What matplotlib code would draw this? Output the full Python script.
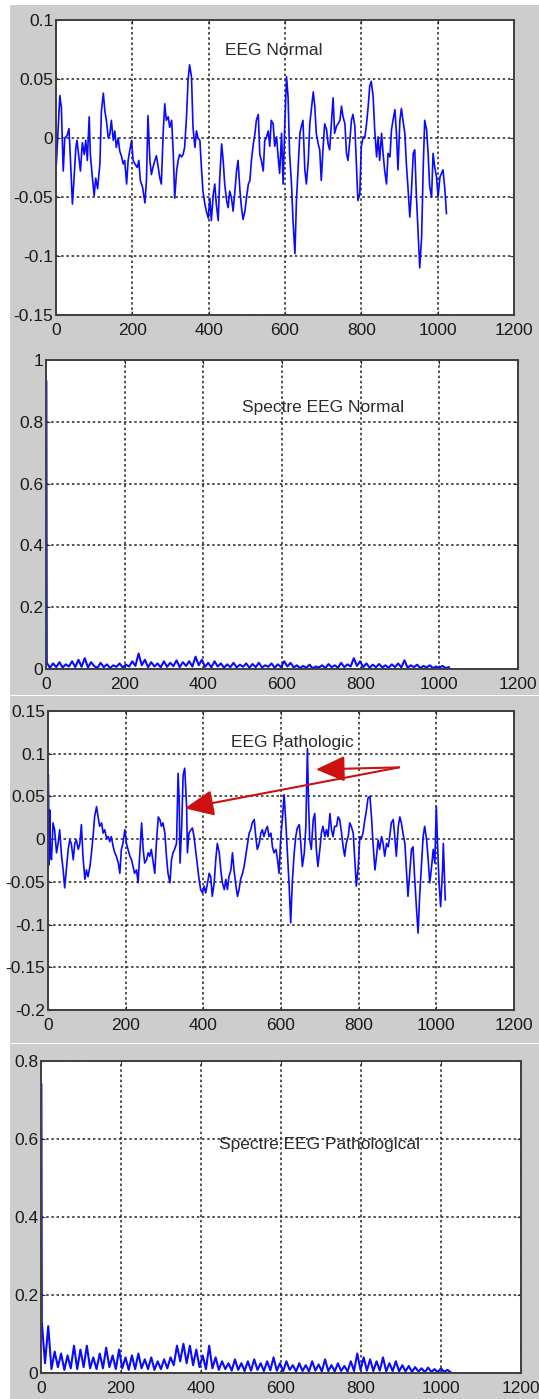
import numpy as np
import matplotlib
matplotlib.use("Agg")
import matplotlib.pyplot as plt
from matplotlib.patches import Rectangle

plt.rcParams["font.family"] = ["Liberation Sans", "DejaVu Sans"]

# EEG normal (samples / amplitude)
normal_x = [1, 10, 14, 19, 23, 29, 34, 38, 43, 47, 52, 55, 61, 64, 69, 74, 78, 82, 87, 90,
            96, 100, 104, 109, 115, 119, 124, 128, 132, 137, 141, 145, 150, 154, 158, 163, 167, 172, 176, 180,
            185, 189, 193, 198, 202, 207, 213, 217, 221, 227, 233, 237, 241, 246, 250, 254, 259, 263, 268, 272,
            276, 281, 285, 289, 294, 298, 303, 307, 311, 316, 320, 324, 329, 333, 337, 342, 346, 350, 355, 359,
            364, 368, 372, 377, 381, 385, 390, 394, 399, 403, 407, 412, 416, 420, 425, 429, 434, 438, 442, 447,
            451, 455, 460, 464, 468, 473, 477, 482, 486, 490, 495, 499, 504, 508, 512, 517, 521, 525, 530, 534,
            538, 543, 547, 551, 556, 560, 564, 569, 573, 578, 582, 586, 591, 595, 599, 604, 608, 612, 617, 621,
            626, 630, 634, 639, 643, 647, 652, 656, 661, 665, 669, 674, 678, 682, 687, 691, 695, 700, 704, 709,
            713, 717, 722, 726, 730, 735, 739, 744, 748, 752, 757, 761, 765, 770, 774, 778, 783, 787, 791, 796,
            800, 805, 809, 813, 818, 822, 826, 831, 835, 840, 844, 848, 853, 857, 861, 866, 870, 875, 879, 883,
            888, 892, 896, 901, 905, 909, 914, 918, 922, 927, 931, 936, 940, 944, 949, 953, 958, 962, 966, 971,
            975, 979, 984, 988, 992, 997, 1001, 1006, 1010, 1014, 1019, 1023]
normal_y = [-0.022, 0.036, 0.026, -0.028, 0.0, 0.002, 0.008, -0.019, -0.056, -0.036, -0.008, -0.002, -0.019, -0.028, -0.004, -0.014, -0.002, -0.019, 0.018, -0.014,
            -0.036, -0.049, -0.034, -0.043, -0.022, 0.023, 0.038, 0.023, 0.015, 0.0, 0.003, 0.015, -0.002, 0.006, -0.008, 0.0, -0.011, -0.016, -0.022, -0.019,
            -0.039, -0.019, -0.011, -0.002, -0.019, -0.022, -0.025, -0.019, -0.036, -0.042, -0.055, -0.036, 0.019, -0.019, -0.031, -0.025, -0.019, -0.015, -0.025, -0.034,
            -0.039, 0.006, 0.029, 0.015, 0.018, 0.009, 0.015, -0.011, -0.051, -0.028, -0.019, -0.014, -0.016, -0.014, -0.008, 0.018, 0.049, 0.062, 0.052, 0.009,
            -0.008, 0.006, 0.0, -0.002, -0.025, -0.045, -0.056, -0.062, -0.068, -0.051, -0.070, -0.048, -0.039, -0.056, -0.070, -0.034, -0.005, -0.019, -0.039, -0.053,
            -0.059, -0.045, -0.051, -0.062, -0.048, -0.028, -0.019, -0.045, -0.059, -0.069, -0.062, -0.051, -0.039, -0.036, -0.019, -0.005, 0.003, 0.015, 0.020, -0.014,
            -0.019, -0.028, -0.002, 0.0, 0.006, -0.007, 0.015, 0.012, -0.007, 0.001, -0.016, -0.030, 0.004, -0.039, 0.007, 0.052, 0.035, -0.013, -0.039, -0.070,
            -0.098, -0.053, -0.027, 0.004, 0.010, 0.015, -0.027, -0.039, -0.019, 0.012, 0.024, 0.039, 0.027, 0.004, -0.005, -0.010, -0.036, -0.007, 0.012, 0.007,
            -0.005, -0.010, 0.015, 0.034, 0.004, 0.010, 0.012, 0.015, 0.027, 0.018, 0.012, -0.013, -0.019, -0.002, 0.015, 0.020, 0.010, -0.022, -0.053, -0.047,
            -0.007, 0.001, 0.0, 0.010, 0.027, 0.044, 0.048, 0.035, 0.007, -0.016, 0.001, -0.019, 0.004, -0.013, -0.027, -0.039, -0.013, -0.016, 0.007, 0.015,
            0.024, 0.004, -0.027, 0.015, 0.025, 0.015, 0.004, -0.022, -0.041, -0.067, -0.047, -0.013, -0.010, -0.047, -0.081, -0.110, -0.084, -0.027, 0.015, 0.007,
            -0.013, -0.041, -0.050, -0.013, -0.024, -0.033, -0.050, -0.033, -0.030, -0.027, -0.044, -0.064]

# EEG pathologic
patho_x = [1, 3, 5, 6, 9, 13, 17, 22, 26, 30, 35, 39, 43, 48, 52, 56, 60, 65, 69, 73,
           78, 82, 86, 90, 95, 99, 103, 108, 112, 116, 120, 125, 129, 133, 138, 142, 146, 151, 155, 159,
           163, 168, 172, 176, 181, 185, 189, 193, 198, 202, 206, 211, 215, 219, 223, 228, 232, 236, 241, 245,
           249, 254, 258, 262, 266, 271, 275, 279, 284, 288, 292, 296, 301, 305, 309, 314, 318, 322, 326, 331,
           335, 338, 340, 344, 348, 352, 357, 359, 363, 368, 372, 376, 381, 385, 389, 393, 398, 402, 406, 411,
           415, 419, 423, 428, 432, 436, 441, 445, 449, 454, 458, 462, 466, 471, 475, 479, 484, 488, 492, 496,
           501, 505, 509, 514, 518, 522, 526, 531, 535, 539, 544, 548, 552, 556, 561, 565, 569, 574, 578, 582,
           587, 591, 595, 599, 604, 608, 612, 617, 621, 625, 629, 634, 638, 642, 647, 651, 655, 660, 664, 668,
           671, 674, 678, 683, 687, 691, 695, 700, 704, 708, 713, 717, 721, 726, 730, 734, 738, 743, 747, 751,
           756, 760, 764, 768, 773, 777, 781, 786, 790, 794, 799, 803, 807, 811, 816, 820, 824, 829, 833, 837,
           842, 846, 850, 854, 859, 863, 867, 872, 876, 880, 884, 889, 893, 897, 902, 906, 910, 914, 919, 923,
           927, 932, 936, 940, 944, 949, 953, 957, 962, 966, 970, 975, 979, 983, 987, 992, 996, 1000, 1003, 1007,
           1011, 1016, 1018, 1023]
patho_y = [0.075, -0.030, 0.034, -0.016, -0.024, 0.019, 0.011, -0.016, -0.005, 0.011, -0.020, -0.036, -0.057, -0.032, -0.012, -0.001, -0.005, -0.024, -0.005, -0.001,
           -0.012, -0.005, 0.017, -0.020, -0.047, -0.036, -0.044, -0.032, -0.016, 0.003, 0.026, 0.038, 0.026, 0.015, 0.019, 0.007, 0.011, 0.001, 0.003, -0.003,
           0.003, -0.009, -0.016, -0.020, -0.028, -0.040, -0.012, -0.005, 0.011, -0.005, -0.012, -0.020, -0.024, -0.032, -0.040, -0.036, -0.051, -0.020, 0.019, -0.012,
           -0.028, -0.024, -0.016, -0.020, -0.012, -0.028, -0.040, -0.005, 0.026, 0.023, 0.015, 0.019, 0.007, -0.020, -0.040, -0.051, -0.024, -0.016, -0.012, -0.005,
           0.077, 0.042, -0.028, 0.011, 0.075, 0.083, 0.038, -0.016, 0.007, 0.011, 0.013, 0.003, -0.016, -0.032, -0.047, -0.059, -0.063, -0.055, -0.063, -0.051,
           -0.040, -0.044, -0.067, -0.051, -0.024, -0.005, -0.016, -0.036, -0.051, -0.059, -0.047, -0.059, -0.044, -0.036, -0.016, -0.036, -0.055, -0.067, -0.059, -0.047,
           -0.040, -0.032, -0.020, -0.005, 0.007, 0.011, 0.019, 0.023, 0.003, -0.012, -0.005, 0.007, 0.011, 0.003, 0.011, 0.015, 0.003, 0.007, -0.009, -0.016,
           -0.012, -0.024, -0.040, -0.001, 0.026, 0.052, 0.023, -0.020, -0.055, -0.098, -0.051, -0.016, 0.003, 0.013, 0.017, -0.005, -0.032, -0.016, 0.015, 0.106,
           0.042, -0.001, -0.012, 0.023, 0.030, -0.012, -0.032, -0.012, 0.007, 0.015, 0.003, 0.011, 0.003, 0.030, 0.011, 0.003, 0.015, 0.015, 0.026, 0.023,
           0.007, -0.009, -0.020, -0.005, 0.003, 0.019, 0.015, 0.007, -0.024, -0.055, -0.032, 0.003, 0.001, 0.007, 0.023, 0.034, 0.048, 0.050, 0.026, -0.005,
           -0.036, -0.020, -0.001, -0.012, 0.003, -0.005, -0.020, -0.005, -0.009, 0.003, 0.019, 0.023, 0.003, -0.020, 0.015, 0.026, 0.019, 0.007, -0.005, -0.036,
           -0.067, -0.036, -0.012, -0.009, -0.044, -0.082, -0.110, -0.067, -0.028, 0.003, 0.015, -0.001, -0.024, -0.051, -0.036, -0.012, -0.028, 0.038, -0.005, -0.051,
           -0.079, -0.036, -0.005, -0.071]

# spectra: DC peak, then magnitude samples from 2 to 1024
spec_normal_dc = 0.93
spec_normal = [0.020, 0.004, 0.018, 0.006, 0.022, 0.005, 0.015, 0.008, 0.025, 0.006, 0.030, 0.007, 0.035, 0.005, 0.022, 0.009,
               0.004, 0.020, 0.006, 0.015, 0.003, 0.012, 0.007, 0.018, 0.005, 0.014, 0.008, 0.025, 0.010, 0.050, 0.012, 0.030,
               0.006, 0.022, 0.008, 0.018, 0.005, 0.025, 0.007, 0.020, 0.009, 0.028, 0.006, 0.022, 0.010, 0.025, 0.008, 0.040,
               0.012, 0.030, 0.007, 0.020, 0.005, 0.025, 0.008, 0.018, 0.004, 0.015, 0.006, 0.020, 0.005, 0.014, 0.007, 0.018,
               0.004, 0.016, 0.006, 0.020, 0.005, 0.012, 0.007, 0.018, 0.004, 0.015, 0.006, 0.025, 0.008, 0.020, 0.005, 0.012,
               0.003, 0.010, 0.004, 0.014, 0.002, 0.008, 0.005, 0.012, 0.003, 0.016, 0.006, 0.012, 0.004, 0.020, 0.006, 0.015,
               0.008, 0.035, 0.010, 0.025, 0.006, 0.018, 0.004, 0.014, 0.006, 0.016, 0.005, 0.012, 0.004, 0.015, 0.006, 0.018,
               0.005, 0.028, 0.004, 0.012, 0.006, 0.014, 0.003, 0.010, 0.005, 0.012, 0.003, 0.008, 0.004, 0.010, 0.003, 0.006]
spec_patho_dc = 0.74
spec_patho = [0.130, 0.025, 0.120, 0.010, 0.055, 0.015, 0.050, 0.008, 0.045, 0.012, 0.070, 0.010, 0.060, 0.015, 0.070, 0.012,
              0.040, 0.010, 0.050, 0.012, 0.065, 0.015, 0.045, 0.010, 0.060, 0.012, 0.040, 0.008, 0.045, 0.010, 0.050, 0.012,
              0.035, 0.010, 0.040, 0.008, 0.030, 0.010, 0.035, 0.012, 0.040, 0.020, 0.070, 0.030, 0.075, 0.025, 0.070, 0.020,
              0.060, 0.015, 0.045, 0.010, 0.070, 0.012, 0.040, 0.008, 0.030, 0.010, 0.025, 0.006, 0.035, 0.008, 0.025, 0.005,
              0.030, 0.006, 0.035, 0.008, 0.025, 0.005, 0.030, 0.007, 0.040, 0.006, 0.025, 0.005, 0.030, 0.008, 0.020, 0.004,
              0.025, 0.005, 0.020, 0.004, 0.030, 0.006, 0.022, 0.004, 0.035, 0.005, 0.020, 0.004, 0.025, 0.005, 0.018, 0.004,
              0.030, 0.005, 0.050, 0.008, 0.040, 0.006, 0.035, 0.005, 0.030, 0.006, 0.040, 0.004, 0.025, 0.005, 0.030, 0.004,
              0.020, 0.004, 0.018, 0.003, 0.015, 0.004, 0.012, 0.002, 0.014, 0.003, 0.010, 0.002, 0.012, 0.003, 0.008, 0.002]

x_ticks = [0, 200, 400, 600, 800, 1000, 1200]
yt_normal = [-0.15, -0.1, -0.05, 0, 0.05, 0.1]
yl_normal = ["-0.15", "-0.1", "-0.05", "0", "0.05", "0.1"]
yt_spec1 = [0, 0.2, 0.4, 0.6, 0.8, 1]
yl_spec1 = ["0", "0.2", "0.4", "0.6", "0.8", "1"]
yt_patho = [-0.2, -0.15, -0.1, -0.05, 0, 0.05, 0.1, 0.15]
yl_patho = ["-0.2", "-0.15", "-0.1", "-0.05", "0", "0.05", "0.1", "0.15"]
yt_spec2 = [0, 0.2, 0.4, 0.6, 0.8]
yl_spec2 = ["0", "0.2", "0.4", "0.6", "0.8"]

W, H = 539, 1399
BLUE = "#0a0aff"
GREY = "#cdcdcd"
TXT = "#2a2a2a"

fig = plt.figure(figsize=(W / 100, H / 100), dpi=100, facecolor="white")


def frect(x0, y0, x1, y1):
    # pixel box (top-left origin) -> figure fraction rect
    return [x0 / W, 1 - y1 / H, (x1 - x0) / W, (y1 - y0) / H]


# grey window backgrounds behind each panel
for (y0, y1) in [(5, 695), (696, 1043), (1044, 1399)]:
    r = frect(10, y0, W, y1)
    fig.patches.append(Rectangle((r[0], r[1]), r[2], r[3], transform=fig.transFigure,
                                 facecolor=GREY, edgecolor="none", zorder=-5))


def make_axes(box, ylim, yticks, ylabels):
    ax = fig.add_axes(frect(*box))
    ax.set_facecolor("white")
    ax.set_xlim(0, 1200)
    ax.set_ylim(*ylim)
    ax.set_xticks(x_ticks)
    ax.set_xticklabels([str(t) for t in x_ticks])
    ax.set_yticks(yticks)
    ax.set_yticklabels(ylabels)
    ax.grid(True, color="#202020", linestyle=(0, (1.6, 1.8)), linewidth=1.1)
    ax.tick_params(direction="in", length=3, width=0.8, colors="#303030",
                   labelsize=12.5, labelcolor="#1a1a1a", top=True, right=True)
    ax.tick_params(axis="x", pad=6)
    ax.tick_params(axis="y", pad=2)
    for s in ax.spines.values():
        s.set_color("#404040")
        s.set_linewidth(1.4)
    return ax


ax1 = make_axes((56, 20, 514, 315), (-0.15, 0.1), yt_normal, yl_normal)
ax1.plot(normal_x, normal_y, color=BLUE, lw=1.2)
ax1.text(443, 0.074, "EEG Normal", fontsize=12.5, color=TXT, va="center")

ax2 = make_axes((46, 360, 518, 669), (0, 1), yt_spec1, yl_spec1)
xs = np.linspace(2, 1024, len(spec_normal))
ax2.plot(np.r_[1, xs], np.r_[spec_normal_dc, spec_normal], color=BLUE, lw=1.5)
ax2.text(498, 0.845, "Spectre EEG Normal", fontsize=12.5, color=TXT, va="center")

ax3 = make_axes((48, 711, 514, 1010), (-0.2, 0.15), yt_patho, yl_patho)
ax3.plot(patho_x, patho_y, color=BLUE, lw=1.2)
ax3.text(471, 0.113, "EEG Pathologic", fontsize=12.5, color=TXT, va="center")
for head in [(690, 0.0816), (352, 0.036)]:
    ax3.annotate("", xy=head, xytext=(904, 0.084),
                 arrowprops=dict(arrowstyle="-|>,head_length=0.9,head_width=0.4",
                                 color="#cc1111", lw=1.5, mutation_scale=20,
                                 shrinkA=0, shrinkB=0))

ax4 = make_axes((41, 1061, 521, 1373), (0, 0.8), yt_spec2, yl_spec2)
xs = np.linspace(2, 1024, len(spec_patho))
ax4.plot(np.r_[1, xs], np.r_[spec_patho_dc, spec_patho], color=BLUE, lw=1.5)
ax4.text(446, 0.585, "Spectre EEG Pathological", fontsize=12.5, color=TXT, va="center")

fig.savefig("out.png", dpi=100, facecolor=fig.get_facecolor())
